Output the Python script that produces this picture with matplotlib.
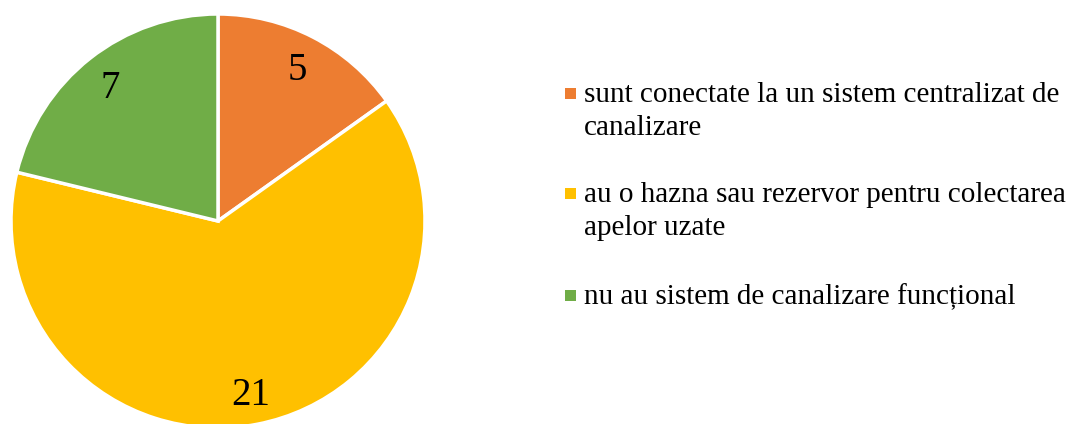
import matplotlib.pyplot as plt
from matplotlib.patches import Rectangle
from matplotlib.transforms import offset_copy

categories = [
    "sunt conectate la un sistem centralizat de\ncanalizare",
    "au o hazna sau rezervor pentru colectarea\napelor uzate",
    "nu au sistem de canalizare funcțional",
]
values = [5, 21, 7]
colors = ["#ED7D31", "#FFC000", "#70AD47"]

W, H = 1071, 424
fig = plt.figure(figsize=(W / 100, H / 100), dpi=100)
plt.rcParams['font.family'] = ['Liberation Serif', 'DejaVu Serif']

# pie centre (218, 221) px from top-left, radius 207 px
cx, cy, r = 218, 221, 207
ax = fig.add_axes([(cx - r) / W, (H - cy - r) / H, 2 * r / W, 2 * r / H])
total = sum(values)
wedges, texts, autotexts = ax.pie(
    values, colors=colors, startangle=90, counterclock=False,
    autopct=lambda p: "%d" % round(p * total / 100), pctdistance=0.84,
    wedgeprops=dict(edgecolor="white", linewidth=2.5),
    textprops=dict(fontsize=28, color="black"))
ax.set_xlim(-1, 1)
ax.set_ylim(-1, 1)
for w in wedges:
    w.set_clip_on(False)
# put the visual middle of the digits on the label point
for t in autotexts:
    t.set_va("baseline")
    t.set_transform(offset_copy(ax.transData, fig=fig, y=-13.5, units="dots"))

# legend drawn by hand so the marker sits on the first line
baselines = [101.5, 201.5, 304]
line_gap = 33.5
for lab, col, yb in zip(categories, colors, baselines):
    fig.patches.append(Rectangle((565 / W, 1 - (yb - 3) / H), 11 / W, 11 / H,
                                 transform=fig.transFigure, facecolor=col, edgecolor="none"))
    for i, line in enumerate(lab.split("\n")):
        fig.text(584 / W, 1 - (yb + i * line_gap) / H, line, fontsize=21,
                 va="baseline", ha="left", color="black")

fig.savefig("out.png", dpi=100)
